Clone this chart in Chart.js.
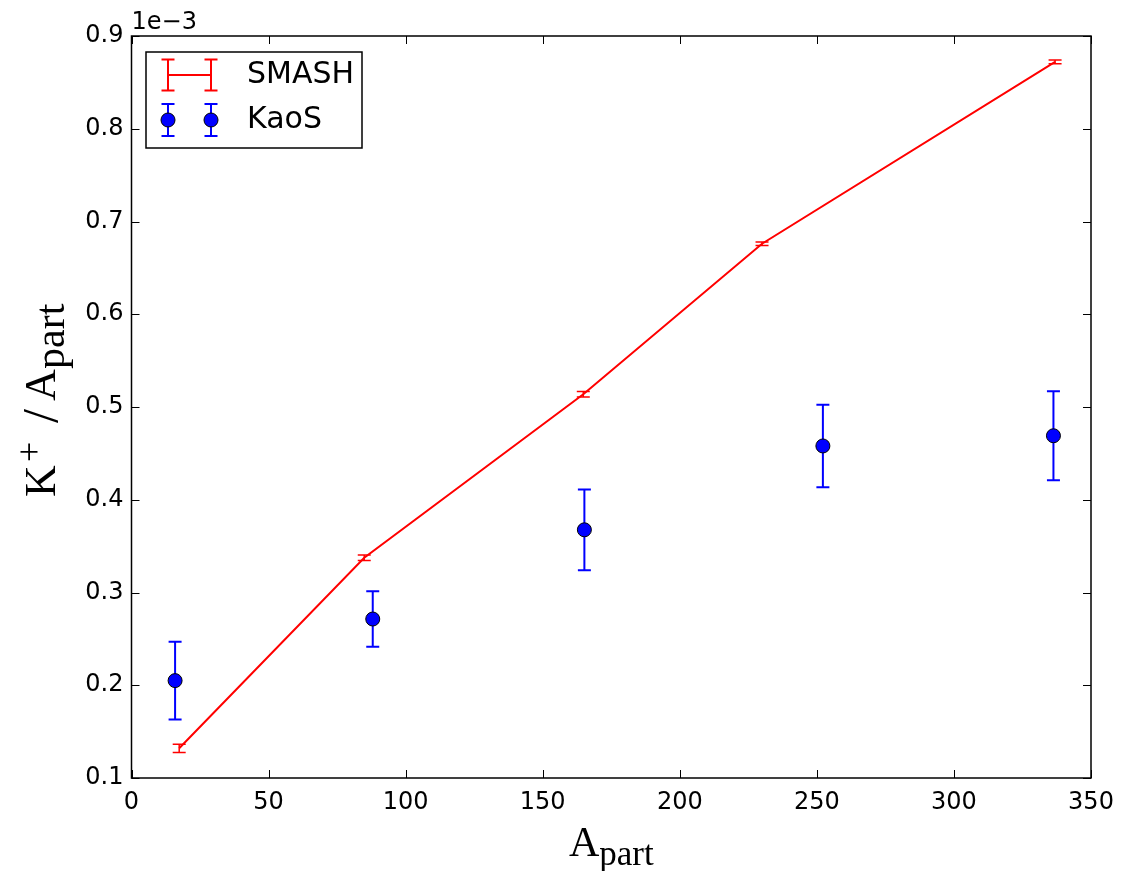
<!DOCTYPE html>
<html>
<head>
<meta charset="utf-8">
<script src="https://cdn.jsdelivr.net/npm/chart.js@4/dist/chart.umd.min.js"></script>
<style>
html,body{margin:0;padding:0;background:#fff;}
#wrap{width:1142px;height:871px;}
</style>
</head>
<body>
<div id="wrap"><canvas id="c" width="1142" height="871"></canvas></div>
<script>
// ---- data (values in units of 1e-3) ----
const smashX = [17.4, 84.9, 164.8, 230, 336.9];
const smashY = [0.132, 0.3374, 0.5138, 0.676, 0.872];
const smashErr = [0.0045, 0.003, 0.003, 0.002, 0.002];

const kaosX = [15.9, 88, 165.2, 252.2, 336.3];
const kaosY = [0.205, 0.2714, 0.3676, 0.458, 0.469];
const kaosErr = [0.042, 0.03, 0.0435, 0.0445, 0.048];

const xTicks = [0, 50, 100, 150, 200, 250, 300, 350];
const yTicks = [0.1, 0.2, 0.3, 0.4, 0.5, 0.6, 0.7, 0.8, 0.9];
const seriesNames = ['SMASH', 'KaoS'];
const exponentLabel = '1e\u22123';

const tickFont = '24px "DejaVu Sans"';
const serif = '"Liberation Serif", "DejaVu Serif", serif';

const errPlugin = {
  id: 'errbars',
  beforeDatasetsDraw(chart) {
    const ctx = chart.ctx, xs = chart.scales.x, ys = chart.scales.y;
    const draw = (X, Y, E, color, lw, cap) => {
      ctx.save();
      ctx.strokeStyle = color; ctx.lineWidth = lw;
      for (let i = 0; i < X.length; i++) {
        const px = xs.getPixelForValue(X[i]);
        const pt = ys.getPixelForValue(Y[i] + E[i]);
        const pb = ys.getPixelForValue(Y[i] - E[i]);
        ctx.beginPath();
        ctx.moveTo(px, pt); ctx.lineTo(px, pb);
        ctx.moveTo(px - cap, pt); ctx.lineTo(px + cap, pt);
        ctx.moveTo(px - cap, pb); ctx.lineTo(px + cap, pb);
        ctx.stroke();
      }
      ctx.restore();
    };
    draw(kaosX, kaosY, kaosErr, '#0000ff', 2, 6.5);
    draw(smashX, smashY, smashErr, '#ff0000', 1.5, 6.5);
  },
  afterDraw(chart) {
    const ctx = chart.ctx, a = chart.chartArea, xs = chart.scales.x, ys = chart.scales.y;
    ctx.save();
    // frame
    ctx.strokeStyle = '#000'; ctx.lineWidth = 1.5;
    ctx.strokeRect(a.left, a.top, a.right - a.left, a.bottom - a.top);
    // inner ticks on all sides
    ctx.lineWidth = 1;
    const tl = 8;
    ctx.beginPath();
    xTicks.forEach(v => {
      const p = Math.round(xs.getPixelForValue(v)) + 0.5;
      ctx.moveTo(p, a.bottom); ctx.lineTo(p, a.bottom - tl);
      ctx.moveTo(p, a.top); ctx.lineTo(p, a.top + tl);
    });
    yTicks.forEach(v => {
      const p = Math.round(ys.getPixelForValue(v)) + 0.5;
      ctx.moveTo(a.left, p); ctx.lineTo(a.left + tl, p);
      ctx.moveTo(a.right, p); ctx.lineTo(a.right - tl, p);
    });
    ctx.stroke();

    // offset text
    ctx.fillStyle = '#000';
    ctx.font = tickFont;
    ctx.textAlign = 'left'; ctx.textBaseline = 'alphabetic';
    ctx.fillText(exponentLabel, a.left, 29);

    // x title: A_part
    const cxm = (a.left + a.right) / 2;
    const partsX = [{t: 'A', f: '42px ' + serif, dy: 0}, {t: 'part', f: '35px ' + serif, dy: 9}];
    let total = 0;
    partsX.forEach(p => { ctx.font = p.f; p.w = ctx.measureText(p.t).width; total += p.w; });
    let cx = cxm - total / 2;
    partsX.forEach(p => { ctx.font = p.f; ctx.fillText(p.t, cx, 856 + p.dy); cx += p.w; });

    // y title: K^+ /A_part  (rotated; u runs upward from the bottom of the label)
    ctx.save();
    ctx.translate(55, 497);
    ctx.rotate(-Math.PI / 2);
    const partsY = [
      {t: 'K', f: '44px ' + serif, u: 0, dy: 0},
      {t: '+', f: '36px ' + serif, u: 35, dy: -14},
      {t: '/', f: '50px ' + serif, u: 74, dy: 2},
      {t: 'A', f: '44px ' + serif, u: 96, dy: 0},
      {t: 'part', f: '42px ' + serif, u: 128, dy: 9}
    ];
    partsY.forEach(p => { ctx.font = p.f; ctx.fillText(p.t, p.u, p.dy); });
    ctx.restore();

    // legend
    const lx = 146, ly = 52, lw = 216, lh = 96;
    ctx.fillStyle = '#fff';
    ctx.fillRect(lx, ly, lw, lh);
    ctx.strokeStyle = '#000'; ctx.lineWidth = 1.5;
    ctx.strokeRect(lx, ly, lw, lh);
    const h1 = 168, h2 = 211;
    // SMASH handle
    let yy = 75;
    ctx.strokeStyle = '#ff0000'; ctx.lineWidth = 2;
    ctx.beginPath();
    ctx.moveTo(h1, yy); ctx.lineTo(h2, yy);
    [h1, h2].forEach(h => {
      ctx.moveTo(h, yy - 15.5); ctx.lineTo(h, yy + 15.5);
      ctx.moveTo(h - 6.5, yy - 15.5); ctx.lineTo(h + 6.5, yy - 15.5);
      ctx.moveTo(h - 6.5, yy + 15.5); ctx.lineTo(h + 6.5, yy + 15.5);
    });
    ctx.stroke();
    // KaoS handle
    yy = 120;
    ctx.strokeStyle = '#0000ff'; ctx.lineWidth = 2;
    ctx.beginPath();
    [h1, h2].forEach(h => {
      ctx.moveTo(h, yy - 16); ctx.lineTo(h, yy + 16);
      ctx.moveTo(h - 6.5, yy - 16); ctx.lineTo(h + 6.5, yy - 16);
      ctx.moveTo(h - 6.5, yy + 16); ctx.lineTo(h + 6.5, yy + 16);
    });
    ctx.stroke();
    ctx.fillStyle = '#0000ff'; ctx.strokeStyle = '#000'; ctx.lineWidth = 1;
    [h1, h2].forEach(h => {
      ctx.beginPath(); ctx.arc(h, yy, 7, 0, Math.PI * 2); ctx.fill(); ctx.stroke();
    });
    ctx.fillStyle = '#000';
    ctx.font = '30px "DejaVu Sans"';
    ctx.textAlign = 'left'; ctx.textBaseline = 'middle';
    ctx.fillText(seriesNames[0], 247, 75);
    ctx.fillText(seriesNames[1], 247, 120);
    ctx.restore();
  }
};

new Chart(document.getElementById('c'), {
  type: 'scatter',
  data: {
    datasets: [
      {
        label: seriesNames[0],
        data: smashX.map((x, i) => ({x: x, y: smashY[i]})),
        showLine: true,
        borderColor: '#ff0000',
        borderWidth: 2,
        pointRadius: 0,
        fill: false,
        tension: 0
      },
      {
        label: seriesNames[1],
        data: kaosX.map((x, i) => ({x: x, y: kaosY[i]})),
        showLine: false,
        backgroundColor: '#0000ff',
        borderColor: '#000000',
        borderWidth: 1,
        pointRadius: 7
      }
    ]
  },
  options: {
    responsive: false,
    animation: false,
    devicePixelRatio: 1,
    layout: {padding: {left: 0, right: 51, top: 36, bottom: 0}},
    plugins: {legend: {display: false}, tooltip: {enabled: false}},
    scales: {
      x: {
        type: 'linear', min: 0, max: 350,
        afterFit(s) { s.height = 93; },
        afterBuildTicks(s) { s.ticks = xTicks.map(v => ({value: v})); },
        grid: {display: false, drawTicks: false},
        border: {display: false},
        ticks: {font: {family: 'DejaVu Sans', size: 24}, color: '#000', padding: 10, maxRotation: 0,
                callback: v => String(v)}
      },
      y: {
        type: 'linear', min: 0.1, max: 0.9,
        afterFit(s) { s.width = 131.5; },
        afterBuildTicks(s) { s.ticks = yTicks.map(v => ({value: v})); },
        grid: {display: false, drawTicks: false},
        border: {display: false},
        ticks: {font: {family: 'DejaVu Sans', size: 24}, color: '#000', padding: 8,
                callback: v => Number(v).toFixed(1)}
      }
    }
  },
  plugins: [errPlugin]
});
</script>
</body>
</html>
